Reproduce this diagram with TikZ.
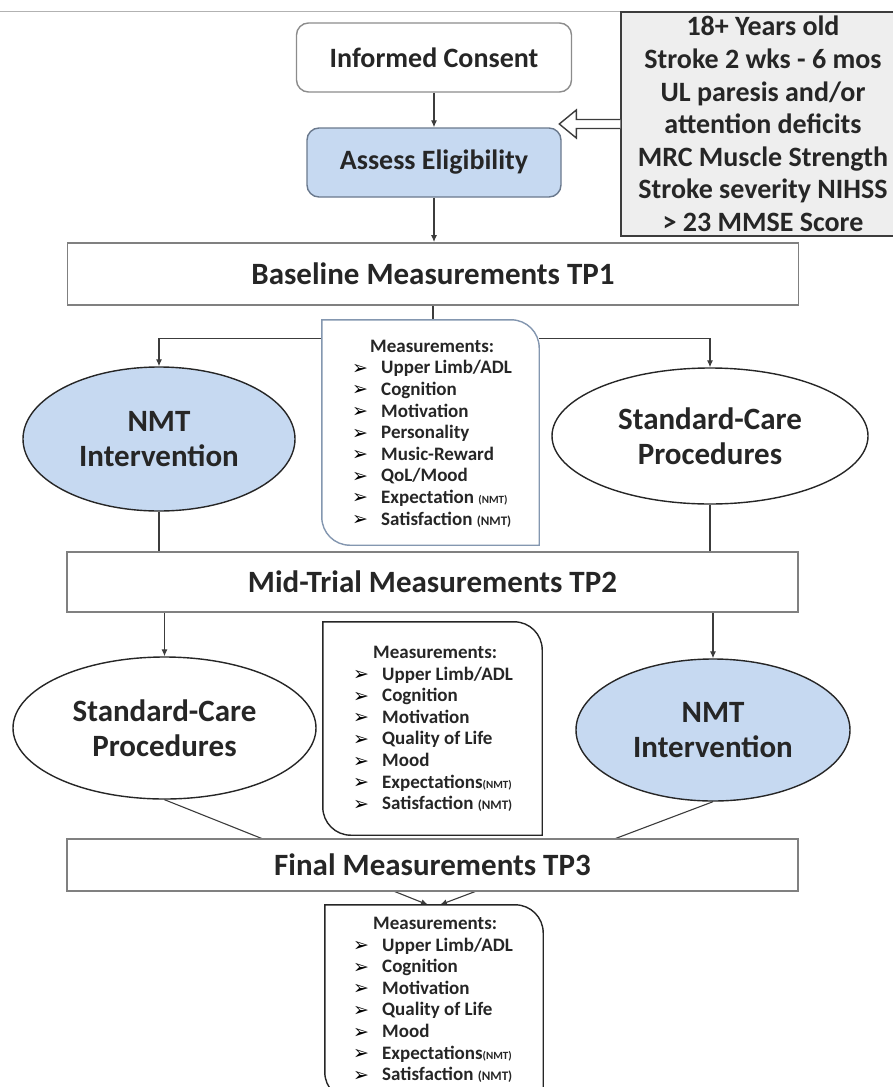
\documentclass[tikz,border=0pt]{standalone}
\usepackage{fontspec}
\setmainfont{Carlito}
\newfontfamily\dingfont{DejaVu Sans}
\usetikzlibrary{shapes.geometric,arrows.meta,backgrounds}

\definecolor{armblue}{HTML}{C6D9F1}
\definecolor{critgray}{HTML}{EEEEEE}
\definecolor{edgeblue}{HTML}{8497B0}
\definecolor{inkgray}{HTML}{3C3C3C}

% bullet in front of each measurement
\newcommand{\arw}{\makebox[29pt][l]{\raisebox{-0.5pt}{\dingfont\fontsize{19}{19}\selectfont\color{black}➢}}}
\newcommand{\nmttag}[1]{{\fontsize{#1}{#1}\selectfont (NMT)}}

\begin{document}
\begin{tikzpicture}[x=1pt, y=-1pt, >={Latex[length=7pt,width=6pt]},
    roundbox/.style={draw, rounded corners=12pt, line width=1.4pt, minimum width=275,
        minimum height=69, inner sep=0pt, text=black!85, font=\fontsize{28}{32}\selectfont\bfseries},
    critbox/.style={draw=inkgray, fill=critgray, line width=1.4pt, minimum width=284,
        minimum height=224, inner sep=0pt, align=center, text=black!85,
        font=\fontsize{28}{32.6}\selectfont\bfseries},
    tpbox/.style={draw=black!50, fill=white, line width=1.8pt, minimum width=731,
        inner sep=0pt, text=black!85, font=\fontsize{31}{35}\selectfont\bfseries},
    armell/.style={ellipse, draw=black!85, line width=1.4pt, inner sep=0pt, align=center,
        text=black!85, font=\fontsize{31}{35}\selectfont\bfseries},
    measbox/.style={fill=white, inner sep=0pt},
    measline/.style={line width=1.4pt},
    measlist/.style={inner sep=0pt, align=left, text=black!85,
        font=\fontsize{19}{21.6}\selectfont\bfseries},
    link/.style={draw=inkgray, line width=1.1pt},
    hollowarrow/.style={draw=inkgray, fill=white, line width=1.4pt, line join=miter}]

    \useasboundingbox (0,0) rectangle (893,1087);
    \clip (0,0) rectangle (893,1087);

    % rule along the top edge
    \draw[black!30, line width=0.8pt] (0,11) -- (893,11);

    \node[roundbox, draw=black!45, fill=white] (consent) at (434,57.5) {Informed Consent};
    \node[roundbox, draw=edgeblue!80!black, fill=armblue, minimum width=254] (elig) at (434,162.5) {Assess Eligibility};
    \node[critbox] (crit) at (763,124) {18+ Years old\\ Stroke 2 wks - 6 mos\\ UL paresis and/or\\
        attention deficits\\ MRC Muscle Strength\\ Stroke severity NIHSS\\ > 23 MMSE Score};
    \draw[hollowarrow] ([yshift=4.5pt]crit.west) -- ++(-44,0) -- ++(0,-9.5) -- ++(-17,14)
        -- ++(17,14) -- ++(0,-9.5) -- ([yshift=-4.5pt]crit.west);

    \node[tpbox, minimum height=62] (base) at (433,274) {Baseline Measurements TP1};
    \node[measbox, minimum width=217, minimum height=225] (measA) at (430.5,432.5) {};
    \node[armell, fill=armblue, minimum width=272, minimum height=144] (nmtA) at (159,439) {NMT\\Intervention};
    \node[armell, fill=white, minimum width=316, minimum height=136] (scA) at (710,436) {Standard-Care\\Procedures};

    \node[tpbox, minimum height=60] (mid) at (432.5,582) {Mid-Trial Measurements TP2};
    \node[measbox, minimum width=219, minimum height=213] (measB) at (432.5,728.5) {};
    \node[armell, fill=white, minimum width=303, minimum height=142] (scB) at (164.5,728) {Standard-Care\\Procedures};
    \node[armell, fill=armblue, minimum width=274, minimum height=142] (nmtB) at (713,730) {NMT\\Intervention};

    \node[tpbox, minimum height=52] (final) at (432.5,865) {Final Measurements TP3};
    \node[measbox, minimum width=218, minimum height=195] (measC) at (434,1002.5) {};

    % measurement boxes: top right and bottom left corners rounded
    \draw[measline, draw=edgeblue] (measA.north west) -- ([xshift=-28pt]measA.north east)
        arc[start angle=-90, end angle=0, radius=28] -- (measA.south east)
        -- ([xshift=28pt]measA.south west) arc[start angle=90, end angle=180, radius=28] -- cycle;
    \draw[measline, draw=black!85] (measB.north west) -- ([xshift=-28pt]measB.north east)
        arc[start angle=-90, end angle=0, radius=28] -- (measB.south east)
        -- ([xshift=28pt]measB.south west) arc[start angle=90, end angle=180, radius=28] -- cycle;
    \draw[measline, draw=black!85] (measC.north west) -- ([xshift=-28pt]measC.north east)
        arc[start angle=-90, end angle=0, radius=28] -- (measC.south east)
        -- ([xshift=28pt]measC.south west) arc[start angle=90, end angle=180, radius=28] -- cycle;

    \node[measlist, anchor=west] (listA) at (352,433.5) {\hspace*{18pt}Measurements:\\
        \arw Upper Limb/ADL\\ \arw Cognition\\ \arw Motivation\\ \arw Personality\\
        \arw Music-Reward\\ \arw QoL/Mood\\ \arw Expectation \nmttag{11}\\ \arw Satisfaction \nmttag{13}};
    \node[measlist, anchor=west] (listB) at (353,729) {\hspace*{20pt}Measurements:\\
        \arw Upper Limb/ADL\\ \arw Cognition\\ \arw Motivation\\ \arw Quality of Life\\
        \arw Mood\\ \arw Expectations\nmttag{11}\\ \arw Satisfaction \nmttag{13}};
    \node[measlist, anchor=west] (listC) at (353,1000) {\hspace*{20pt}Measurements:\\
        \arw Upper Limb/ADL\\ \arw Cognition\\ \arw Motivation\\ \arw Quality of Life\\
        \arw Mood\\ \arw Expectations\nmttag{11}\\ \arw Satisfaction \nmttag{13}};

    \begin{scope}[on background layer]
        \draw[link, ->] (consent) -- (elig);
        \draw[link, ->] (elig) -- (elig |- base.north);
        \draw[link] (base.south) -- ++(0,33) coordinate (split);
        \draw[link, ->] (split) -| (nmtA.north);
        \draw[link, ->] (split) -| (scA.north);
        \draw[link] (nmtA) -- (nmtA |- mid.north);
        \draw[link] (scA) -- (scA |- mid.north);
        \draw[link, ->] (mid.south -| scB) -- (scB);
        \draw[link, ->] (mid.south -| nmtB) -- (nmtB);
        \draw[link, ->] (scB.south) -- ([xshift=-6pt]measC.north);
        \draw[link, ->] (nmtB.south) -- ([xshift=6pt]measC.north);
    \end{scope}
\end{tikzpicture}
\end{document}
